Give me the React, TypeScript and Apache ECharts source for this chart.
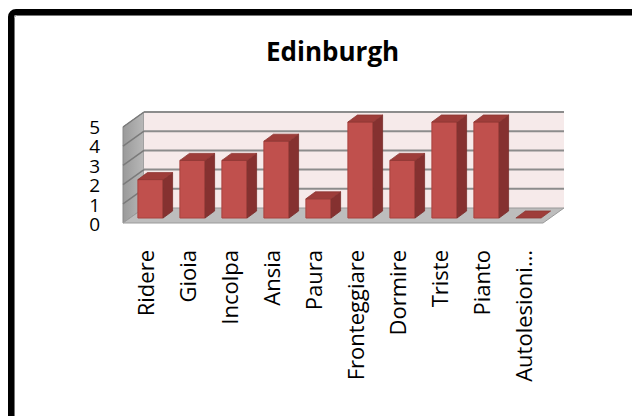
import React, { useEffect, useRef } from "react";
import * as echarts from "echarts";

const chartTitle = "Edinburgh";
const categories = [
  "Ridere",
  "Gioia",
  "Incolpa",
  "Ansia",
  "Paura",
  "Fronteggiare",
  "Dormire",
  "Triste",
  "Pianto",
  "Autolesioni…",
];
const values = [2, 3, 3, 4, 1, 5, 3, 5, 5, 0];
const yMin = 0;
const yMax = 5;
const yInterval = 1;

const BACK = [14.5, -10];
const FRONT = [-6.5, 5];
const DEPTH = [9.5, -7];

const FONT = "'Open Sans', 'Noto Sans', sans-serif";

export default function App() {
  const ref = useRef<HTMLDivElement>(null);
  useEffect(() => {
    if (!ref.current) return;
    const chart = echarts.init(ref.current, null, { renderer: "svg" });

    const wallsItem = (params: any, api: any) => {
      const cs = params.coordSys;
      const left = cs.x;
      const right = cs.x + cs.width;
      const y0 = api.coord([0, yMin])[1];
      const yT = api.coord([0, yMax])[1];
      const children: any[] = [];
      children.push({
        type: "polygon",
        shape: {
          points: [
            [left + FRONT[0], yT + FRONT[1]],
            [left + BACK[0], yT + BACK[1]],
            [left + BACK[0], y0 + BACK[1]],
            [left + FRONT[0], y0 + FRONT[1]],
          ],
        },
        style: {
          fill: new echarts.graphic.LinearGradient(0, 0, 1, 0, [
            { offset: 0, color: "#9a9a9a" },
            { offset: 1, color: "#b8b8b8" },
          ]),
          stroke: "#8a8a8a",
          lineWidth: 1,
        },
      });
      children.push({
        type: "rect",
        shape: {
          x: left + BACK[0],
          y: yT + BACK[1],
          width: right - left,
          height: y0 - yT,
        },
        style: { fill: "#f6eaea", stroke: "none" },
      });
      children.push({
        type: "polygon",
        shape: {
          points: [
            [left + FRONT[0], y0 + FRONT[1]],
            [right + FRONT[0], y0 + FRONT[1]],
            [right + BACK[0], y0 + BACK[1]],
            [left + BACK[0], y0 + BACK[1]],
          ],
        },
        style: { fill: "#bdbdbd", stroke: "#9a9a9a", lineWidth: 1 },
      });
      for (let v = yMin + yInterval; v <= yMax; v += yInterval) {
        const y = api.coord([0, v])[1];
        children.push({
          type: "line",
          shape: {
            x1: left + BACK[0],
            y1: y + BACK[1],
            x2: right + BACK[0],
            y2: y + BACK[1],
          },
          style: { stroke: "#8c8c8c", lineWidth: 2 },
        });
        children.push({
          type: "line",
          shape: {
            x1: left + FRONT[0],
            y1: y + FRONT[1],
            x2: left + BACK[0],
            y2: y + BACK[1],
          },
          style: { stroke: "#7a7a7a", lineWidth: 1.5 },
        });
      }
      return { type: "group", children };
    };

    const barItem = (params: any, api: any) => {
      const idx = api.value(0);
      const val = api.value(1);
      const top = api.coord([idx, val]);
      const base = api.coord([idx, yMin]);
      const bw = api.size([1, 0])[0] * 0.6;
      const xl = top[0] - bw / 2;
      const xr = top[0] + bw / 2;
      const yv = top[1];
      const y0 = base[1];
      const dx = DEPTH[0];
      const dy = DEPTH[1];
      const children: any[] = [];
      if (y0 - yv > 0.5) {
        children.push({
          type: "rect",
          shape: { x: xl, y: yv, width: bw, height: y0 - yv },
          style: { fill: "#c0504d", stroke: "#a8433f", lineWidth: 1 },
        });
        children.push({
          type: "polygon",
          shape: {
            points: [
              [xr, yv],
              [xr + dx, yv + dy],
              [xr + dx, y0 + dy],
              [xr, y0],
            ],
          },
          style: { fill: "#853130", stroke: "#7a2d2b", lineWidth: 0.8 },
        });
      }
      children.push({
        type: "polygon",
        shape: {
          points: [
            [xl, yv],
            [xr, yv],
            [xr + dx, yv + dy],
            [xl + dx, yv + dy],
          ],
        },
        style: { fill: "#9e3d3a", stroke: "#8e3734", lineWidth: 0.8 },
      });
      return { type: "group", children };
    };

    const option: any = {
      animation: false,
      backgroundColor: "#ffffff",
      title: {
        text: chartTitle,
        left: 261,
        top: 33,
        textStyle: {
          fontFamily: FONT,
          fontSize: 26,
          fontWeight: "bold",
          color: "#000",
        },
      },
      grid: [
        { left: 129.5, top: 122, width: 420, height: 96 },
        { left: 124, top: 127, width: 420, height: 97 },
      ],
      xAxis: [
        { type: "category", data: categories, gridIndex: 0, show: false },
        {
          type: "category",
          data: categories,
          gridIndex: 1,
          axisLine: { show: false },
          axisTick: { show: false },
          axisLabel: {
            rotate: 90,
            margin: 26,
            interval: 0,
            fontSize: 22,
            color: "#000",
            fontFamily: FONT,
          },
        },
      ],
      yAxis: [
        {
          type: "value",
          min: yMin,
          max: yMax,
          interval: yInterval,
          gridIndex: 0,
          show: false,
        },
        {
          type: "value",
          min: yMin,
          max: yMax,
          interval: yInterval,
          gridIndex: 1,
          offset: 23,
          axisLine: { show: false },
          axisTick: { show: false },
          splitLine: { show: false },
          axisLabel: {
            margin: 1,
            fontSize: 19,
            lineHeight: 17,
            showMinLabel: true,
            showMaxLabel: true,
            hideOverlap: false,
            color: "#000",
            fontFamily: FONT,
          },
        },
      ],
      graphic: [
        {
          type: "rect",
          shape: { x: 11, y: 12, width: 700, height: 500, r: 5 },
          style: { fill: "none", stroke: "#000", lineWidth: 6 },
          z: 10,
        },
        {
          type: "rect",
          shape: { x: 14.5, y: 15.5, width: 700, height: 500, r: 2 },
          style: { fill: "none", stroke: "#777", lineWidth: 1 },
          z: 10,
        },
      ],
      series: [
        {
          type: "custom",
          xAxisIndex: 0,
          yAxisIndex: 0,
          renderItem: wallsItem,
          data: [[0, 0]],
          silent: true,
          z: 1,
        },
        {
          type: "custom",
          xAxisIndex: 0,
          yAxisIndex: 0,
          renderItem: barItem,
          encode: { x: 0, y: 1 },
          data: values.map((v, i) => [i, v]),
          z: 2,
        },
      ],
    };
    chart.setOption(option);
    return () => chart.dispose();
  }, []);

  return (
    <div
      ref={ref}
      style={{ position: "fixed", left: 0, top: 0, width: 632, height: 416 }}
    />
  );
}
